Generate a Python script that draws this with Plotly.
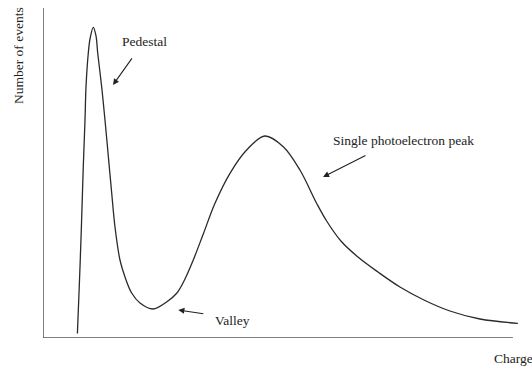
import plotly.graph_objects as go

# Schematic PMT charge spectrum: pedestal, valley and single photoelectron peak
charge = [7.32, 7.77, 8.15, 8.57, 8.94, 9.15, 9.64, 10.04, 10.70,
          11.28, 11.64, 12.49, 13.19, 14.11, 14.62, 15.32, 16.38, 17.45,
          18.87, 20.64, 23.40, 26.17, 28.45, 30.21, 31.98, 34.11, 36.60,
          39.79, 43.34, 47.23, 51.13, 54.68, 58.23, 60.36, 63.40, 67.02,
          71.28, 75.96, 81.06, 86.60, 92.98, 101.06]
events = [1.36, 17.58, 32.73, 51.82, 66.06, 76.06, 86.36, 90.91, 94.15,
          91.52, 86.36, 76.06, 66.06, 51.82, 43.94, 33.64, 23.64, 18.48,
          13.64, 10.61, 8.79, 10.76, 13.55, 17.88, 23.64, 31.52, 40.82,
          49.91, 56.97, 61.21, 57.97, 50.91, 40.82, 35.45, 29.39, 24.55,
          20.00, 15.45, 11.52, 8.18, 5.76, 4.45]

# Labelled features: text position, arrow tail and arrow head (data units)
labels = ["Pedestal", "Valley", "Single photoelectron peak"]
label_x = [21.6, 40.3, 76.8]
label_y = [89.7, 5.45, 60.0]
tail_x = [19.15, 34.45, 68.95]
tail_y = [85.2, 7.3, 55.5]
head_x = [14.9, 28.8, 59.6]
head_y = [76.7, 8.5, 48.8]

x_title = "Charge"
y_title = "Number of events"

serif = "Liberation Serif, Times New Roman, serif"
ink = "#222222"

fig = go.Figure()
fig.add_trace(go.Scatter(
    x=charge, y=events, mode="lines",
    line=dict(color="#2a2a2a", width=1.3, shape="spline", smoothing=1.0),
    hoverinfo="skip", showlegend=False,
))

# Plain axis lines (no ticks), like a hand-drawn schematic
fig.add_shape(type="line", x0=0, y0=0, x1=100, y1=0, xref="x", yref="y",
              line=dict(color="#555555", width=1.5))
fig.add_shape(type="line", x0=0, y0=0, x1=0, y1=100, xref="x", yref="y",
              line=dict(color="#555555", width=1.5))

for txt, lx, ly, tx, ty, hx, hy in zip(labels, label_x, label_y,
                                       tail_x, tail_y, head_x, head_y):
    fig.add_annotation(x=lx, y=ly, xref="x", yref="y", text=txt,
                       showarrow=False, font=dict(family=serif, size=13.5, color=ink))
    fig.add_annotation(x=hx, y=hy, ax=tx, ay=ty, xref="x", yref="y",
                       axref="x", ayref="y", text="", showarrow=True,
                       arrowhead=2, arrowsize=1.1, arrowwidth=1.1,
                       arrowcolor="#222222", standoff=0, startstandoff=0)

# Axis titles sit outside the plotting area, so place them in paper units
fig.add_annotation(x=0.9277, y=-0.0636, xref="paper", yref="paper", text=x_title,
                   xanchor="left", yanchor="middle", showarrow=False,
                   font=dict(family=serif, size=13.5, color=ink))
fig.add_annotation(x=-0.0506, y=0.856, xref="paper", yref="paper", text=y_title,
                   textangle=-90, xanchor="center", yanchor="middle",
                   showarrow=False,
                   font=dict(family=serif, size=13.5, color=ink))

fig.update_xaxes(range=[0, 103], visible=False, fixedrange=True)
fig.update_yaxes(range=[0, 100], visible=False, fixedrange=True)
fig.update_layout(
    width=532, height=369,
    margin=dict(l=43, r=5, t=8, b=31),
    paper_bgcolor="white", plot_bgcolor="white",
    showlegend=False,
)

fig.write_html("out.html", config={"displayModeBar": False})
